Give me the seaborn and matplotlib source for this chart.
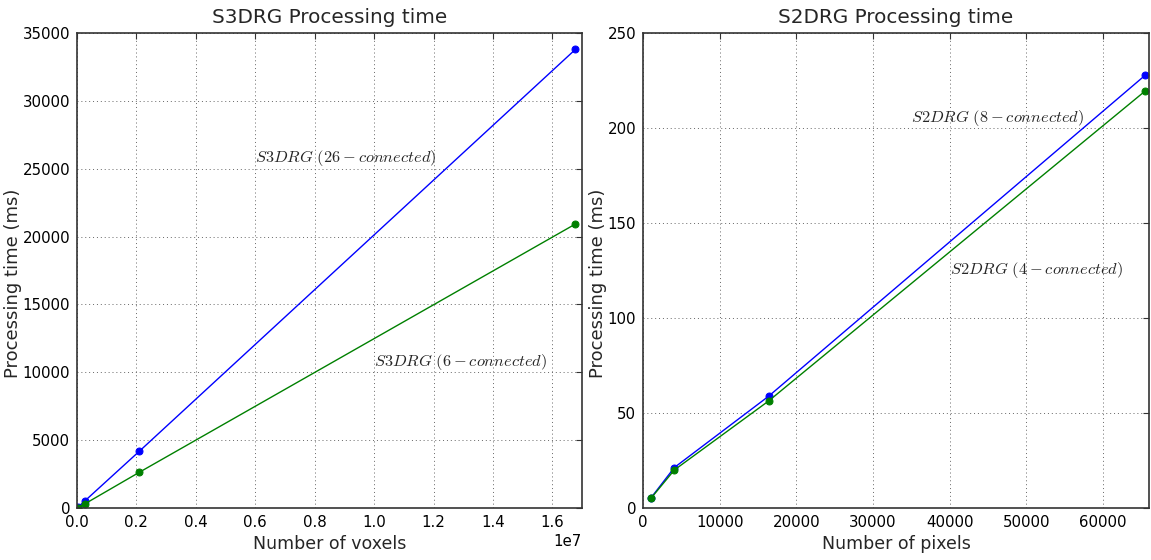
import numpy as np
import pandas as pd
import matplotlib
matplotlib.use("Agg")
import matplotlib.pyplot as plt
import seaborn as sns

# ---------------- data ----------------
voxels = [32768, 262144, 2097152, 16777216]
s3drg_26 = [60, 516, 4180, 33800]
s3drg_6 = [35, 300, 2630, 20930]

pixels = [1024, 4096, 16384, 65536]
s2drg_8 = [5.2, 21.3, 58.8, 227.9]
s2drg_4 = [5.0, 20.0, 56.3, 219.6]

left_xticks = [0, 2e6, 4e6, 6e6, 8e6, 1e7, 1.2e7, 1.4e7, 1.6e7]
left_yticks = [0, 5000, 10000, 15000, 20000, 25000, 30000, 35000]
right_xticks = [0, 10000, 20000, 30000, 40000, 50000, 60000]
right_yticks = [0, 50, 100, 150, 200, 250]

titles = ["S3DRG Processing time", "S2DRG Processing time"]
xlabels = ["Number of voxels", "Number of pixels"]
ylabel = "Processing time (ms)"
labels_left = [r"$S3DRG\ (26-connected)$", r"$S3DRG\ (6-connected)$"]
labels_right = [r"$S2DRG\ (8-connected)$", r"$S2DRG\ (4-connected)$"]

# ---------------- style ----------------
sns.set_style("white")
plt.rcParams["font.family"] = ["DejaVu Sans"]
plt.rcParams["mathtext.fontset"] = "cm"
plt.rcParams["axes.axisbelow"] = True

fig = plt.figure(figsize=(11.51, 5.6), dpi=100)
ax1 = fig.add_axes([0.0669, 0.0929, 0.4388, 0.848])
ax2 = fig.add_axes([0.5586, 0.0929, 0.4396, 0.848])


def style_ax(ax):
    for sp in ax.spines.values():
        sp.set_visible(True)
        sp.set_color("#333333")
        sp.set_linewidth(1.2)
    ax.tick_params(direction="in", top=True, right=True, length=4, width=0.8,
                   color="#333333", labelsize=10.8, pad=5, labelcolor="black")
    ax.grid(True, linestyle=(0, (1, 3)), color="#666666", linewidth=0.7)


lw = 1.0
ms = 5
sns.lineplot(x=voxels, y=s3drg_26, ax=ax1, color="blue", marker="o",
             markersize=ms, markeredgecolor="blue", linewidth=lw)
sns.lineplot(x=voxels, y=s3drg_6, ax=ax1, color="green", marker="o",
             markersize=ms, markeredgecolor="green", linewidth=lw)

sns.lineplot(x=pixels, y=s2drg_8, ax=ax2, color="blue", marker="o",
             markersize=ms, markeredgecolor="blue", linewidth=lw)
sns.lineplot(x=pixels, y=s2drg_4, ax=ax2, color="green", marker="o",
             markersize=ms, markeredgecolor="green", linewidth=lw)

ax1.set_xlim(0, 1.7e7)
ax1.set_ylim(0, 35000)
ax1.set_xticks(left_xticks)
ax1.set_yticks(left_yticks)
ax1.ticklabel_format(axis="x", style="sci", scilimits=(0, 0))
ax1.xaxis.get_offset_text().set_fontsize(10.8)

ax2.set_xlim(0, 66000)
ax2.set_ylim(0, 250)
ax2.set_xticks(right_xticks)
ax2.set_yticks(right_yticks)

for ax, t, xl in [(ax1, titles[0], xlabels[0]), (ax2, titles[1], xlabels[1])]:
    style_ax(ax)
    ax.set_title(t, fontsize=14.4, pad=7)
    ax.set_xlabel(xl, fontsize=12.5, labelpad=4)
    ax.set_ylabel(ylabel, fontsize=13)

ax1.yaxis.set_label_coords(-0.108, 0.474)
ax2.yaxis.set_label_coords(-0.071, 0.474)

ax1.text(6e6, 25500, labels_left[0], fontsize=11.8, va="baseline")
ax1.text(1e7, 10500, labels_left[1], fontsize=11.8, va="baseline")
ax2.text(35000, 203, labels_right[0], fontsize=11.8, va="baseline")
ax2.text(40000, 123, labels_right[1], fontsize=11.8, va="baseline")

fig.savefig("out.png", dpi=100)
